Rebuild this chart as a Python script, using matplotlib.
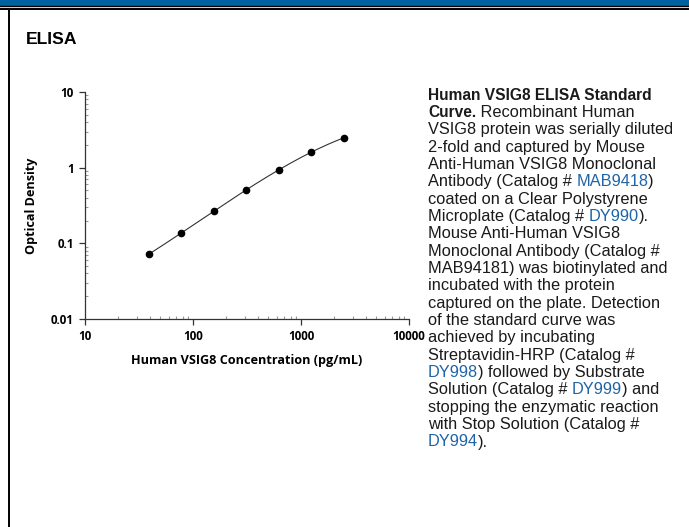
import numpy as np
import matplotlib.pyplot as plt
from matplotlib.patches import Rectangle
from matplotlib.lines import Line2D
from matplotlib.ticker import LogLocator, NullFormatter, FixedFormatter, FixedLocator

# Standard curve data
conc = [39.06, 78.13, 156.25, 312.5, 625, 1250, 2500]
od = [0.072, 0.137, 0.268, 0.512, 0.929, 1.62, 2.48]

x_ticks = [10, 100, 1000, 10000]
x_labels = ["10", "100", "1000", "10000"]
y_ticks = [0.01, 0.1, 1, 10]
y_labels = ["0.01", "0.1", "1", "10"]

LINK = "#1f64a8"
AXC = "#333333"

# caption lines: (text, style) with b=bold, n=normal, l=link
caption = [
    [("Human VSIG8 ELISA Standard", "b")],
    [("Curve.", "b"), (" Recombinant Human", "n")],
    [("VSIG8 protein was serially diluted", "n")],
    [("2-fold and captured by Mouse", "n")],
    [("Anti-Human VSIG8 Monoclonal", "n")],
    [("Antibody (Catalog # ", "n"), ("MAB9418", "l"), (")", "n")],
    [("coated on a Clear Polystyrene", "n")],
    [("Microplate (Catalog # ", "n"), ("DY990", "l"), (").", "n")],
    [("Mouse Anti-Human VSIG8", "n")],
    [("Monoclonal Antibody (Catalog #", "n")],
    [("MAB94181) was biotinylated and", "n")],
    [("incubated with the protein", "n")],
    [("captured on the plate. Detection", "n")],
    [("of the standard curve was", "n")],
    [("achieved by incubating", "n")],
    [("Streptavidin-HRP (Catalog #", "n")],
    [("DY998", "l"), (") followed by Substrate", "n")],
    [("Solution (Catalog # ", "n"), ("DY999", "l"), (") and", "n")],
    [("stopping the enzymatic reaction", "n")],
    [("with Stop Solution (Catalog #", "n")],
    [("DY994", "l"), (").", "n")],
]

W, H = 689, 527
fig = plt.figure(figsize=(W / 100, H / 100), dpi=100)

# frame decorations
fig.patches.append(Rectangle((0, 1 - 5 / H), 1, 5 / H, transform=fig.transFigure,
                             color="#0061a1", zorder=0))
fig.lines.append(Line2D([0, 1], [1 - 5.8 / H] * 2, transform=fig.transFigure,
                        color="black", lw=1.0))
fig.lines.append(Line2D([0, 1], [1 - 9 / H] * 2, transform=fig.transFigure,
                        color="black", lw=1.4))
fig.lines.append(Line2D([8.8 / W] * 2, [0, 1 - 9 / H], transform=fig.transFigure,
                        color="black", lw=1.4))

fig.text(26 / W, 1 - 40 / H, "ELISA", fontsize=12.6, fontweight="bold",
         family="Liberation Sans", va="center", ha="left")

# plot axes
ax = fig.add_axes([85 / W, 1 - 319 / H, (409 - 85) / W, (319 - 92) / H])
ax.set_xscale("log")
ax.set_yscale("log")
ax.set_xlim(10, 10000)
ax.set_ylim(0.01, 10)

# smooth fit through the points in log-log space
lx = np.log10(conc)
ly = np.log10(od)
coef = np.polyfit(lx, ly, 3)
xf = np.linspace(lx[0], lx[-1], 200)
ax.plot(10 ** xf, 10 ** np.polyval(coef, xf), color="#333333", lw=0.8, zorder=2)
ax.plot(conc, od, "o", color="black", ms=4.5, zorder=3)

for s in ["top", "right"]:
    ax.spines[s].set_visible(False)
for s in ["left", "bottom"]:
    ax.spines[s].set_color(AXC)
    ax.spines[s].set_linewidth(0.9)

ax.xaxis.set_major_locator(FixedLocator(x_ticks))
ax.xaxis.set_major_formatter(FixedFormatter(x_labels))
ax.yaxis.set_major_locator(FixedLocator(y_ticks))
ax.yaxis.set_major_formatter(FixedFormatter(y_labels))
ax.xaxis.set_minor_locator(LogLocator(base=10, subs=np.arange(2, 10)))
ax.yaxis.set_minor_locator(LogLocator(base=10, subs=np.arange(2, 10)))
ax.xaxis.set_minor_formatter(NullFormatter())
ax.yaxis.set_minor_formatter(NullFormatter())

ax.tick_params(which="major", direction="out", length=4, width=0.9, color=AXC,
               labelsize=8.4, pad=4)
ax.tick_params(which="minor", direction="in", length=2.5, width=0.8, color="#999999")
for lab in ax.get_xticklabels() + ax.get_yticklabels():
    lab.set_family("Open Sans")
    lab.set_fontweight("bold")

ax.set_xlabel("Human VSIG8 Concentration (pg/mL)", family="Open Sans",
              fontweight="bold", fontsize=9.1, labelpad=8)
ax.set_ylabel("Optical Density", family="Open Sans", fontweight="bold",
              fontsize=9.1, labelpad=9)

# caption with mixed styles
fig.canvas.draw()
renderer = fig.canvas.get_renderer()
x0 = 428
y0 = 95
step = 17.35
for i, line in enumerate(caption):
    x = x0
    y = y0 + i * step
    for txt, st in line:
        t = fig.text(x / W, 1 - y / H, txt, fontsize=11.2 if st == "b" else 11.75,
                     family="Liberation Sans",
                     fontweight="bold" if st == "b" else "normal",
                     color=LINK if st == "l" else "#1a1a1a",
                     va="center", ha="left")
        bb = t.get_window_extent(renderer=renderer)
        x += bb.width

fig.savefig("out.png", dpi=100)
